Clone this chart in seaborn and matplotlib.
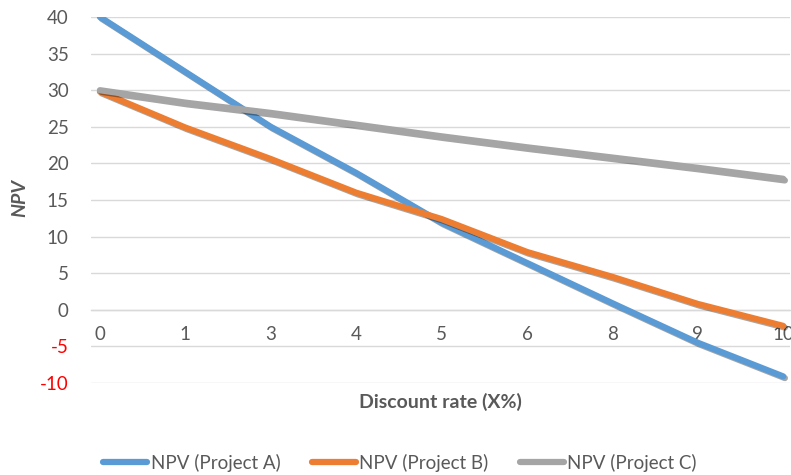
import matplotlib
matplotlib.use("Agg")
import matplotlib.pyplot as plt
import matplotlib.patheffects as pe
from matplotlib.lines import Line2D
import seaborn as sns
import pandas as pd

# ---- data ----
discount_rates = ["0", "1", "3", "4", "5", "6", "8", "9", "10"]
npv_a = [40, 32.5, 25, 18.7, 11.9, 6.4, 0.9, -4.5, -9.1]
npv_b = [29.8, 24.9, 20.6, 16, 12.4, 7.9, 4.5, 0.8, -2.2]
npv_c = [30, 28.3, 26.9, 25.3, 23.7, 22.2, 20.8, 19.4, 17.9]
series_names = ["NPV (Project A)", "NPV (Project B)", "NPV (Project C)"]
colors = ["#5B9BD5", "#ED7D31", "#A5A5A5"]
y_ticks = [-10, -5, 0, 5, 10, 15, 20, 25, 30, 35, 40]

rows = []
for name, vals in zip(series_names, [npv_a, npv_b, npv_c]):
    for r, v in zip(discount_rates, vals):
        rows.append({"rate": r, "npv": v, "series": name})
df = pd.DataFrame(rows)

sns.set_theme(style="white")
plt.rcParams["font.family"] = ["Lato", "DejaVu Sans"]

fig = plt.figure(figsize=(7.91, 4.75), dpi=100)
ax = fig.add_axes([0.115, 0.1937, 0.884, 0.7705])

sns.lineplot(data=df, x="rate", y="npv", hue="series", palette=colors,
             sort=False, linewidth=4.5, ax=ax, legend=False)
for line in ax.get_lines():
    line.set_solid_capstyle("round")
    line.set_solid_joinstyle("round")
    line.set_path_effects([pe.SimpleLineShadow(offset=(1.2, -1.2), alpha=0.35, shadow_color="black"),
                           pe.Normal()])

ax.set_ylim(-10, 40)
ax.set_xlim(-0.105, 8.082)
ax.set_yticks(y_ticks)
ax.set_yticklabels([str(t) for t in y_ticks])
for lbl, t in zip(ax.get_yticklabels(), y_ticks):
    lbl.set_color("#FF0000" if t < 0 else "#595959")
ax.grid(axis="y", color="#D9D9D9", linewidth=1.0)
ax.grid(axis="x", visible=False)
ax.set_axisbelow(True)

for s in ["top", "right", "left"]:
    ax.spines[s].set_visible(False)
ax.spines["bottom"].set_position(("data", 0))
ax.spines["bottom"].set_color("#D9D9D9")
ax.spines["bottom"].set_linewidth(1.0)
ax.spines["bottom"].set_zorder(0.5)

ax.tick_params(axis="y", length=0, pad=16, labelsize=13.5)
ax.tick_params(axis="x", length=0, pad=12, labelsize=13.5, labelcolor="#595959")
ax.set_xlabel("")
ax.set_ylabel("")

fig.text(440 / 791, 1 - 402 / 475, "Discount rate (X%)", ha="center", va="center",
         fontsize=14, fontweight="bold", color="#595959")
fig.text(20 / 791, 1 - 198 / 475, "NPV", ha="center", va="center", rotation=90,
         fontsize=14, fontweight="bold", fontstyle="italic", color="#595959")

handles = [Line2D([0], [0], color=c, linewidth=4.5, solid_capstyle="round") for c in colors]
fig.legend(handles, series_names, loc="center", bbox_to_anchor=(400 / 791, 1 - 463 / 475),
           ncol=3, frameon=False, fontsize=13.5, handlelength=2.35, handletextpad=0.2,
           columnspacing=1.65, labelcolor="#595959")

fig.savefig("out.png", dpi=100)
